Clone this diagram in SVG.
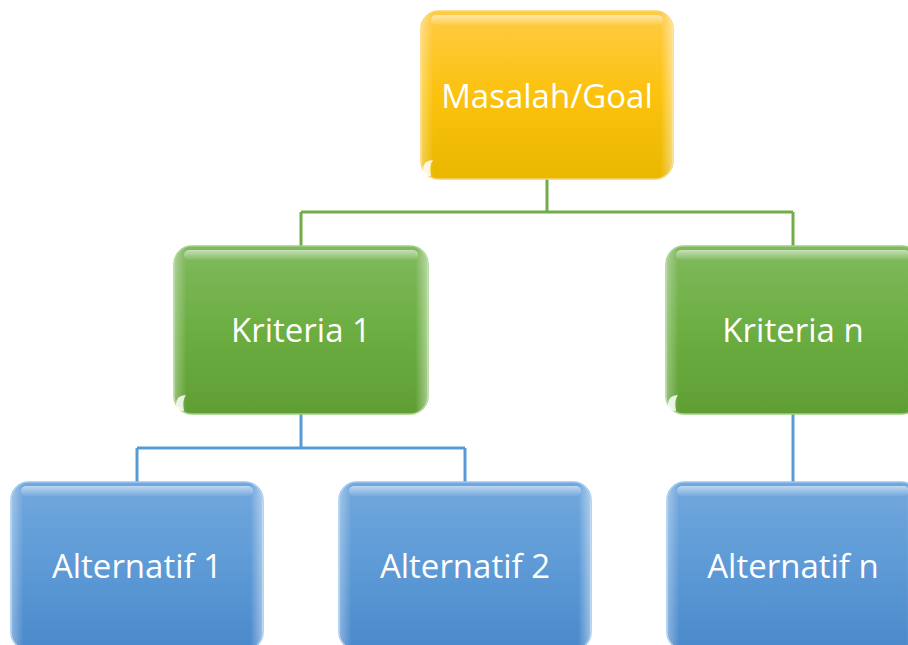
<svg xmlns="http://www.w3.org/2000/svg" width="908" height="645" viewBox="0 0 908 645">
  <defs>
    <linearGradient id="gold" x1="0" y1="0" x2="0" y2="1">
      <stop offset="0" stop-color="#ffcb45"/>
      <stop offset="0.5" stop-color="#fcc20e"/>
      <stop offset="1" stop-color="#e9b700"/>
    </linearGradient>
    <linearGradient id="green" x1="0" y1="0" x2="0" y2="1">
      <stop offset="0" stop-color="#80b95e"/>
      <stop offset="0.5" stop-color="#6cae42"/>
      <stop offset="1" stop-color="#5f9e32"/>
    </linearGradient>
    <linearGradient id="blue" x1="0" y1="0" x2="0" y2="1">
      <stop offset="0" stop-color="#72a8dd"/>
      <stop offset="0.5" stop-color="#5d9ad6"/>
      <stop offset="1" stop-color="#4a89cb"/>
    </linearGradient>
    <!-- glossy top band -->
    <linearGradient id="gloss" x1="0" y1="0" x2="0" y2="1">
      <stop offset="0" stop-color="#ffffff" stop-opacity="0.55"/>
      <stop offset="1" stop-color="#ffffff" stop-opacity="0.05"/>
    </linearGradient>
    <!-- soft side sheen -->
    <linearGradient id="sheen" x1="0" y1="0" x2="1" y2="0">
      <stop offset="0" stop-color="#ffffff" stop-opacity="0.35"/>
      <stop offset="0.05" stop-color="#ffffff" stop-opacity="0"/>
      <stop offset="0.95" stop-color="#ffffff" stop-opacity="0"/>
      <stop offset="1" stop-color="#ffffff" stop-opacity="0.45"/>
    </linearGradient>
  </defs>
  <style>
    .box { stroke-width: 1.5; }
    .gold { fill: url(#gold); stroke: #f7d36a; }
    .green { fill: url(#green); stroke: #a3d188; }
    .blue { fill: url(#blue); stroke: #9cc6ee; }
    .sheen { fill: url(#sheen); }
    .gloss { fill: url(#gloss); }
    .glint { fill: #ffffff; opacity: 0.85; }
    .label { font-family: "Open Sans", "Liberation Sans", sans-serif; font-size: 33px; fill: #ffffff; text-anchor: middle; dominant-baseline: central; }
    .link-g { fill: none; stroke: #70ad47; stroke-width: 3; }
    .link-b { fill: none; stroke: #5b9bd5; stroke-width: 3; }
  </style>

  <g id="connectors">
    <path class="link-g" d="M547 179 V212 M301 212 H793 M301 212 V246 M793 212 V246"/>
    <path class="link-b" d="M301 414 V448 M137 448 H465 M137 448 V482 M465 448 V482"/>
    <path class="link-b" d="M793 414 V482"/>
  </g>

  <g id="goal">
    <rect class="box gold" x="421" y="11" width="252" height="168" rx="18"/>
    <rect class="sheen" x="421" y="11" width="252" height="168" rx="18"/>
    <rect class="gloss" x="431" y="15" width="232" height="10" rx="5"/>
    <path class="glint" d="M423 170 q0 -10 10 -10 q-4 5 -2 16 q-8 0 -8 -6z"/>
    <text class="label" x="547" y="95">Masalah/Goal</text>
  </g>

  <g id="kriteria-1">
    <rect class="box green" x="174" y="246" width="254" height="168" rx="18"/>
    <rect class="sheen" x="174" y="246" width="254" height="168" rx="18"/>
    <rect class="gloss" x="184" y="250" width="234" height="10" rx="5"/>
    <path class="glint" d="M176 405 q0 -10 10 -10 q-4 5 -2 16 q-8 0 -8 -6z"/>
    <text class="label" x="301" y="329">Kriteria 1</text>
  </g>

  <g id="kriteria-n">
    <rect class="box green" x="666" y="246" width="254" height="168" rx="18"/>
    <rect class="sheen" x="666" y="246" width="254" height="168" rx="18"/>
    <rect class="gloss" x="676" y="250" width="234" height="10" rx="5"/>
    <path class="glint" d="M668 405 q0 -10 10 -10 q-4 5 -2 16 q-8 0 -8 -6z"/>
    <text class="label" x="793" y="329">Kriteria n</text>
  </g>

  <g id="alternatif-1">
    <rect class="box blue" x="11" y="482" width="252" height="168" rx="18"/>
    <rect class="sheen" x="11" y="482" width="252" height="168" rx="18"/>
    <rect class="gloss" x="21" y="486" width="232" height="10" rx="5"/>
    <text class="label" x="137" y="565">Alternatif 1</text>
  </g>

  <g id="alternatif-2">
    <rect class="box blue" x="339" y="482" width="252" height="168" rx="18"/>
    <rect class="sheen" x="339" y="482" width="252" height="168" rx="18"/>
    <rect class="gloss" x="349" y="486" width="232" height="10" rx="5"/>
    <text class="label" x="465" y="565">Alternatif 2</text>
  </g>

  <g id="alternatif-n">
    <rect class="box blue" x="667" y="482" width="252" height="168" rx="18"/>
    <rect class="sheen" x="667" y="482" width="252" height="168" rx="18"/>
    <rect class="gloss" x="677" y="486" width="232" height="10" rx="5"/>
    <text class="label" x="793" y="565">Alternatif n</text>
  </g>
</svg>
